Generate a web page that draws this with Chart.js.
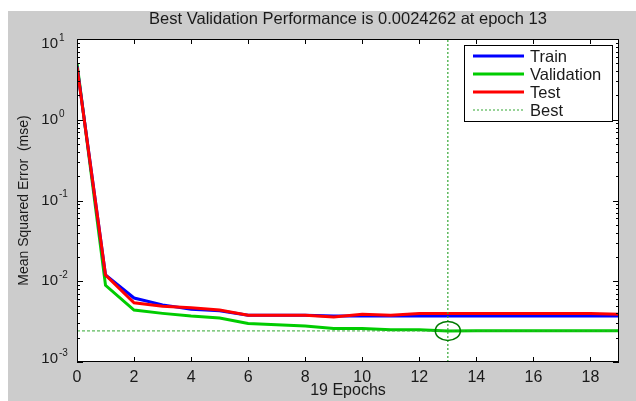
<!DOCTYPE html>
<html>
<head>
<meta charset="utf-8">
<script src="https://cdn.jsdelivr.net/npm/chart.js@4/dist/chart.umd.min.js"></script>
<style>
  html, body { margin: 0; padding: 0; background: #fff; }
  #wrap { width: 636px; height: 401px; }
</style>
</head>
<body>
<div id="wrap"><canvas id="perfChart" width="636" height="401"></canvas></div>
<script>
// training record, mean squared error per epoch
const epochs = [0, 1, 2, 3, 4, 5, 6, 7, 8, 9, 10, 11, 12, 13, 14, 15, 16, 17, 18, 19];
const trainMse = [4.6, 0.0120, 0.0062, 0.0051, 0.0045, 0.0043, 0.0038, 0.0038, 0.0038, 0.0037,
  0.0037, 0.0037, 0.0037, 0.0037, 0.0037, 0.0037, 0.0037, 0.0037, 0.0037, 0.0037];
const validationMse = [5.0, 0.0089, 0.0044, 0.0040, 0.0037, 0.0035, 0.0030, 0.0029, 0.0028, 0.0026,
  0.0026, 0.0025, 0.0025, 0.0024262, 0.00243, 0.00243, 0.00243, 0.00244, 0.00244, 0.00244];
const testMse = [4.5, 0.0119, 0.0054, 0.0049, 0.0047, 0.0044, 0.0038, 0.0038, 0.0038, 0.0036,
  0.0039, 0.0038, 0.0040, 0.0040, 0.0040, 0.0040, 0.0040, 0.0040, 0.0040, 0.0039];
const bestEpoch = 13;
const bestPerf = 0.0024262;

const xTicks = [0, 2, 4, 6, 8, 10, 12, 14, 16, 18];
const yDecades = [-3, -2, -1, 0, 1];
const seriesNames = ["Train", "Validation", "Test", "Best"];
const titleText = "Best Validation Performance is " + bestPerf + " at epoch " + bestEpoch;

const FONT = "'Liberation Sans', Arial, Helvetica, sans-serif";
const TEXT = "#1a1a1a";
const BLUE = "#0000ff", GREEN = "#00cc00", RED = "#ff0000", BEST = "#33a833";

function pts(ys) {
  return epochs.map((e, i) => ({ x: e, y: ys[i] }));
}

// MATLAB-style figure: gray frame, boxed axes with inward ticks, legend in the corner
const matlabFrame = {
  id: "matlabFrame",
  beforeDraw(chart) {
    const { ctx, chartArea: a } = chart;
    ctx.save();
    ctx.fillStyle = "#ffffff";
    ctx.fillRect(0, 0, chart.width, chart.height);
    ctx.fillStyle = "#cccccc";
    ctx.fillRect(8, 11, chart.width - 8, chart.height - 11);
    ctx.fillStyle = "#ffffff";
    ctx.fillRect(a.left, a.top, a.right - a.left, a.bottom - a.top);
    ctx.restore();
  },
  afterDraw(chart) {
    const { ctx, chartArea: a, scales } = chart;
    const xs = scales.x, ys = scales.y;
    ctx.save();

    // validation minimum marker
    const cx = xs.getPixelForValue(bestEpoch), cy = ys.getPixelForValue(bestPerf);
    ctx.strokeStyle = "#007a00";
    ctx.lineWidth = 1.5;
    ctx.beginPath();
    ctx.ellipse(cx, cy, 12.5, 9.5, 0, 0, Math.PI * 2);
    ctx.stroke();

    // box
    ctx.strokeStyle = "#000";
    ctx.lineWidth = 1;
    ctx.strokeRect(a.left + 0.5, a.top + 0.5, a.right - a.left - 1, a.bottom - a.top - 1);

    // x ticks (bottom and top)
    ctx.beginPath();
    xTicks.forEach(v => {
      const px = Math.round(xs.getPixelForValue(v)) + 0.5;
      ctx.moveTo(px, a.bottom); ctx.lineTo(px, a.bottom - 5);
      ctx.moveTo(px, a.top); ctx.lineTo(px, a.top + 5);
    });
    // y ticks, decades and minor steps (left and right)
    yDecades.forEach(d => {
      for (let m = 1; m <= 9; m++) {
        const v = m * Math.pow(10, d);
        if (v > ys.max * 1.0001) break;
        const py = Math.round(ys.getPixelForValue(v)) + 0.5;
        const len = m === 1 ? 6 : 3;
        ctx.moveTo(a.left, py); ctx.lineTo(a.left + len, py);
        ctx.moveTo(a.right, py); ctx.lineTo(a.right - len, py);
      }
    });
    ctx.stroke();

    // y tick labels as 10^n
    ctx.fillStyle = TEXT;
    ctx.textBaseline = "middle";
    yDecades.forEach(d => {
      let py = ys.getPixelForValue(Math.pow(10, d));
      py = Math.min(Math.max(py, a.top + 5), a.bottom - 3);
      ctx.font = "15px " + FONT;
      ctx.textAlign = "right";
      ctx.fillText("10", 58, py);
      ctx.font = "10px " + FONT;
      ctx.textAlign = "left";
      ctx.fillText(d < 0 ? "-" + (-d) : String(d), 59, py - 6);
    });

    // title
    ctx.font = "16.5px " + FONT;
    ctx.textAlign = "center";
    ctx.textBaseline = "middle";
    ctx.fillText(titleText, (a.left + a.right) / 2, 19);

    // legend
    const lx = 464, ly = 45, lw = 148, lh = 76;
    ctx.fillStyle = "#ffffff";
    ctx.fillRect(lx, ly, lw, lh);
    ctx.strokeStyle = "#000";
    ctx.lineWidth = 1;
    ctx.strokeRect(lx + 0.5, ly + 0.5, lw, lh);
    const colors = [BLUE, GREEN, RED, BEST];
    seriesNames.forEach((name, i) => {
      const ry = ly + 11 + i * 18;
      ctx.strokeStyle = colors[i];
      ctx.lineWidth = i < 3 ? 3 : 1.2;
      ctx.setLineDash(i < 3 ? [] : [2, 2]);
      ctx.beginPath();
      ctx.moveTo(473, ry); ctx.lineTo(524, ry);
      ctx.stroke();
      ctx.setLineDash([]);
      ctx.fillStyle = TEXT;
      ctx.font = "16.5px " + FONT;
      ctx.textAlign = "left";
      ctx.textBaseline = "middle";
      ctx.fillText(name, 530, ry + 1);
    });
    ctx.restore();
  }
};

new Chart(document.getElementById("perfChart"), {
  type: "line",
  data: {
    datasets: [
      { label: "Train", data: pts(trainMse), borderColor: BLUE, borderWidth: 3, order: 3 },
      { label: "Validation", data: pts(validationMse), borderColor: GREEN, borderWidth: 3, order: 4 },
      { label: "Test", data: pts(testMse), borderColor: RED, borderWidth: 3, order: 2 },
      { label: "Best", data: [{ x: 0, y: bestPerf }, { x: 19, y: bestPerf }],
        borderColor: BEST, borderWidth: 1, borderDash: [3, 2], order: 1 },
      { label: "Best epoch", data: [{ x: bestEpoch, y: 0.001 }, { x: bestEpoch, y: 10 }],
        borderColor: BEST, borderWidth: 1.2, borderDash: [2, 2], order: 1 }
    ]
  },
  options: {
    responsive: false,
    animation: false,
    devicePixelRatio: 1,
    layout: { padding: { top: 39, right: 17, left: 0, bottom: 0 } },
    elements: { point: { radius: 0 }, line: { tension: 0, fill: false } },
    plugins: { legend: { display: false }, title: { display: false }, tooltip: { enabled: false } },
    scales: {
      x: {
        type: "linear",
        min: 0,
        max: 19,
        afterFit: s => { s.height = 39; },
        afterBuildTicks: s => { s.ticks = xTicks.map(v => ({ value: v })); },
        grid: { display: false, drawTicks: false },
        border: { display: false },
        ticks: { color: TEXT, padding: 6, maxRotation: 0, font: { family: FONT, size: 16 } },
        title: { display: true, text: "19 Epochs", color: TEXT, padding: { top: 0, bottom: 1 },
          font: { family: FONT, size: 16 } }
      },
      y: {
        type: "logarithmic",
        min: 0.001,
        max: 10,
        afterFit: s => { s.width = 77; },
        grid: { display: false, drawTicks: false },
        border: { display: false },
        ticks: { display: false },
        title: { display: true, text: "Mean Squared Error  (mse)", color: TEXT,
          padding: { top: 16, bottom: 0 }, font: { family: FONT, size: 14 } }
      }
    }
  },
  plugins: [matlabFrame]
});
</script>
</body>
</html>
